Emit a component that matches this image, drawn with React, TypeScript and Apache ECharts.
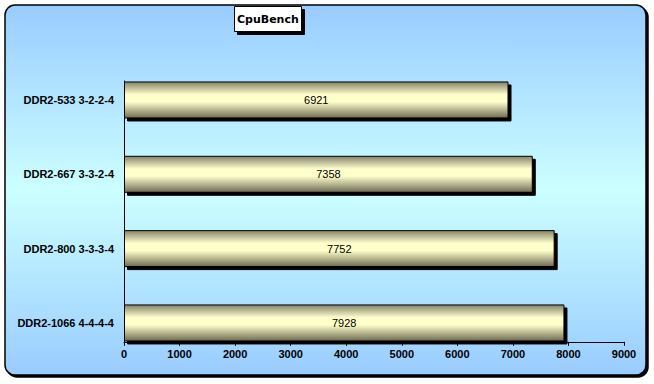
import React, { useEffect, useRef } from "react";
import * as echarts from "echarts";

const categories = ["DDR2-533 3-2-2-4", "DDR2-667 3-3-2-4", "DDR2-800 3-3-3-4", "DDR2-1066 4-4-4-4"];
const values = [6921, 7358, 7752, 7928];
const axisMin = 0;
const axisMax = 9000;
const axisInterval = 1000;
const titleText = "CpuBench";

export default function App() {
  const ref = useRef<HTMLDivElement>(null);
  useEffect(() => {
    if (!ref.current) return;
    const chart = echarts.init(ref.current, undefined, { renderer: "svg" });
    const font = "'Liberation Sans', Arial, sans-serif";
    chart.setOption({
      animation: false,
      backgroundColor: "#ffffff",
      graphic: [
        {
          type: "rect",
          z: -10,
          silent: true,
          shape: { x: 5, y: 5, width: 641, height: 370, r: 10 },
          style: {
            fill: new echarts.graphic.LinearGradient(0, 0, 0, 1, [
              { offset: 0, color: "#99CCFF" },
              { offset: 0.5, color: "#CCFFFF" },
              { offset: 1, color: "#99CCFF" },
            ]),
            stroke: "#000000",
            lineWidth: 1.5,
            shadowColor: "#000000",
            shadowOffsetX: 2,
            shadowOffsetY: 2,
            shadowBlur: 0,
          },
        },
      ],
      title: {
        text: titleText,
        left: 234,
        top: 6,
        backgroundColor: "#ffffff",
        borderColor: "#000000",
        borderWidth: 1,
        padding: [8, 3, 7, 3],
        shadowColor: "#000000",
        shadowOffsetX: 3,
        shadowOffsetY: 3,
        shadowBlur: 0,
        textStyle: {
          fontFamily: "'DejaVu Sans', Verdana, sans-serif",
          fontSize: 11,
          fontWeight: "bold",
          color: "#000000",
        },
      },
      grid: [
        { left: 124, right: 30, top: 62.8, height: 297.3, containLabel: false },
        { left: 124, right: 30, top: 81, height: 261, containLabel: false },
      ],
      xAxis: [
        {
          type: "value",
          gridIndex: 0,
          min: axisMin,
          max: axisMax,
          interval: axisInterval,
          offset: -18.3,
          axisLine: { show: true, lineStyle: { color: "#000000", width: 1 } },
          axisTick: { show: true, inside: false, length: 4, lineStyle: { color: "#000000" } },
          splitLine: { show: false },
          axisLabel: {
            fontFamily: font,
            fontSize: 11,
            fontWeight: "bold",
            color: "#000000",
            margin: 7,
            formatter: (v: number) => String(v),
          },
        },
        { type: "value", gridIndex: 1, show: false, min: axisMin, max: axisMax },
      ],
      yAxis: [
        {
          type: "category",
          gridIndex: 0,
          data: categories,
          inverse: true,
          axisLine: { show: false },
          axisTick: { show: false },
          axisLabel: {
            fontFamily: font,
            fontSize: 11,
            fontWeight: "bold",
            color: "#000000",
            margin: 10,
          },
        },
        {
          type: "value",
          gridIndex: 1,
          axisLine: { show: true, lineStyle: { color: "#000000", width: 1 } },
          axisTick: { show: false },
          axisLabel: { show: false },
          splitLine: { show: false },
        },
      ],
      series: [
        {
          type: "bar",
          xAxisIndex: 0,
          yAxisIndex: 0,
          data: values,
          barWidth: 37,
          itemStyle: {
            color: new echarts.graphic.LinearGradient(0, 0, 0, 1, [
              { offset: 0, color: "#85836A" },
              { offset: 0.35, color: "#FFFFCC" },
              { offset: 0.55, color: "#FFFFCC" },
              { offset: 1, color: "#6E6C52" },
            ]),
            borderColor: "#000000",
            borderWidth: 1,
            shadowColor: "#000000",
            shadowOffsetX: 3,
            shadowOffsetY: 3,
            shadowBlur: 0,
          },
          label: {
            show: true,
            position: "inside",
            fontFamily: font,
            fontSize: 11,
            color: "#000000",
          },
        },
      ],
    });
    return () => chart.dispose();
  }, []);
  return (
    <div
      ref={ref}
      style={{ position: "fixed", left: 0, top: 0, width: 654, height: 384 }}
    />
  );
}
